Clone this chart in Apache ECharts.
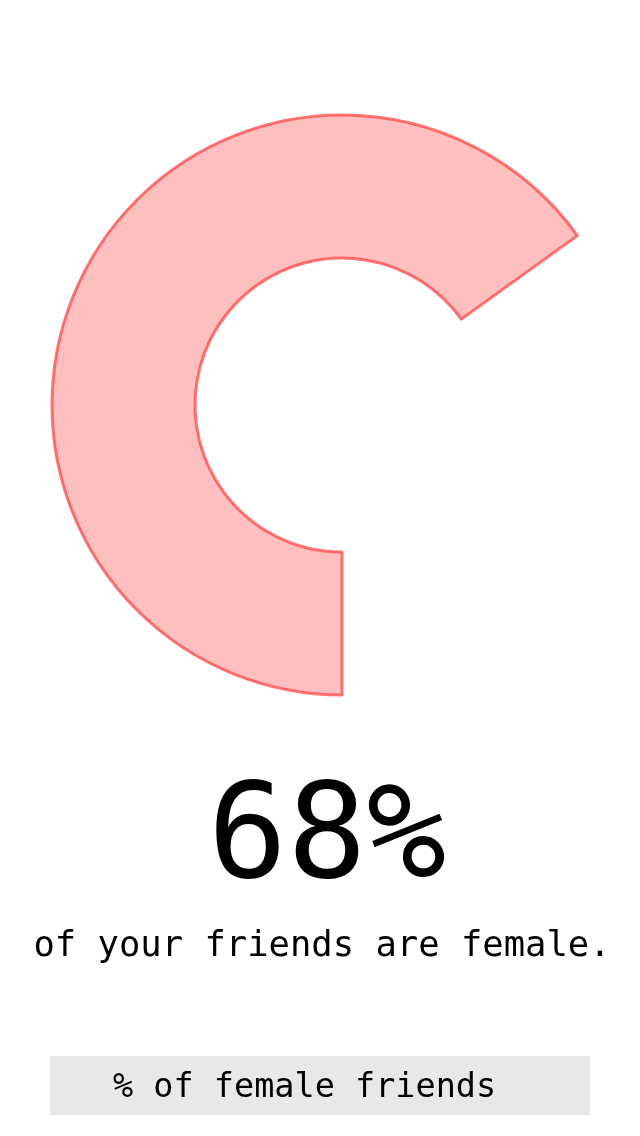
<!DOCTYPE html>
<html>
<head>
<meta charset="utf-8">
<script src="https://cdn.jsdelivr.net/npm/echarts@6/dist/echarts.min.js"></script>
<style>
  html, body { margin: 0; padding: 0; background: #fff; }
  #main { width: 640px; height: 1136px; }
</style>
</head>
<body>
<div id="main"></div>
<script>
// share of female friends, the rest of the ring is left empty
const femaleShare = 68;
const emptyShare = 36.5;
const bigLabel = '68%';
const subLabel = 'of your friends are female.';
const buttonLabel = '% of female friends';

let myChart = echarts.init(document.getElementById('main'));

let option = {
    backgroundColor: '#ffffff',
    animation: false,
    series: [
        {
            type: 'pie',
            center: [342, 405],
            radius: [147, 290],
            startAngle: 270,
            clockwise: true,
            silent: true,
            label: { show: false },
            labelLine: { show: false },
            emphasis: { disabled: true },
            data: [
                {
                    value: femaleShare,
                    name: 'female',
                    itemStyle: {
                        color: 'rgba(255,0,0,0.25)',
                        borderColor: 'rgba(255,60,60,0.7)',
                        borderWidth: 3
                    }
                },
                {
                    value: emptyShare,
                    name: 'rest',
                    itemStyle: { color: 'transparent', borderWidth: 0 }
                }
            ]
        }
    ],
    graphic: [
        {
            type: 'text',
            x: 327,
            y: 777,
            style: {
                text: bigLabel,
                font: '132px "DejaVu Sans Mono", monospace',
                fill: '#000',
                align: 'center',
                verticalAlign: 'top'
            }
        },
        {
            type: 'text',
            x: 322,
            y: 929,
            style: {
                text: subLabel,
                font: '35.5px "DejaVu Sans Mono", monospace',
                fill: '#000',
                align: 'center',
                verticalAlign: 'top'
            }
        },
        {
            type: 'rect',
            shape: { x: 50, y: 1056, width: 540, height: 59 },
            style: { fill: '#e8e8e8' }
        },
        {
            type: 'text',
            x: 113,
            y: 1071,
            style: {
                text: buttonLabel,
                font: '33.5px "DejaVu Sans Mono", monospace',
                fill: '#000',
                align: 'left',
                verticalAlign: 'top'
            }
        }
    ]
};

myChart.setOption(option);
</script>
</body>
</html>
